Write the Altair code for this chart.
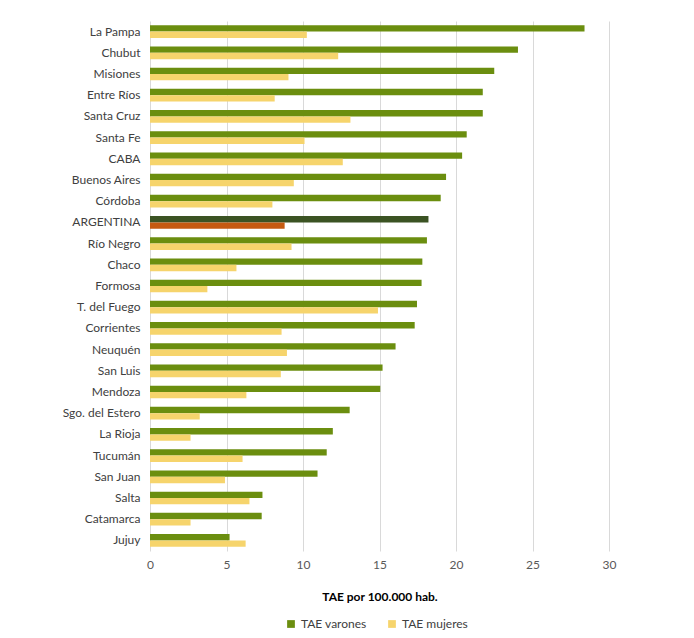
import altair as alt
import pandas as pd

provincias = ["La Pampa", "Chubut", "Misiones", "Entre Ríos", "Santa Cruz", "Santa Fe", "CABA",
              "Buenos Aires", "Córdoba", "ARGENTINA", "Río Negro", "Chaco", "Formosa",
              "T. del Fuego", "Corrientes", "Neuquén", "San Luis", "Mendoza", "Sgo. del Estero",
              "La Rioja", "Tucumán", "San Juan", "Salta", "Catamarca", "Jujuy"]
varones = [28.4, 24.05, 22.5, 21.75, 21.75, 20.7, 20.4, 19.35, 19.0, 18.2, 18.1, 17.8, 17.75,
           17.45, 17.3, 16.05, 15.2, 15.05, 13.05, 11.95, 11.55, 10.95, 7.35, 7.3, 5.2]
mujeres = [10.25, 12.3, 9.05, 8.15, 13.1, 10.1, 12.6, 9.4, 8.0, 8.8, 9.25, 5.65, 3.75,
           14.9, 8.6, 8.95, 8.55, 6.3, 3.25, 2.65, 6.05, 4.9, 6.5, 2.65, 6.25]
series = ["TAE varones", "TAE mujeres"]
colores = ["#6B8E0F", "#F6D46C", "#3B5323", "#C55A11"]
ticks_x = [0, 5, 10, 15, 20, 25, 30]

rows = []
for p, v, m in zip(provincias, varones, mujeres):
    arg = p == "ARGENTINA"
    rows.append({"Provincia": p, "Serie": series[0], "Valor": v,
                 "Clave": "ARG varones" if arg else series[0]})
    rows.append({"Provincia": p, "Serie": series[1], "Valor": m,
                 "Clave": "ARG mujeres" if arg else series[1]})
df = pd.DataFrame(rows)

FONT = "Lato"

chart = alt.Chart(df).mark_bar().encode(
    x=alt.X("Valor:Q", scale=alt.Scale(domain=[0, 30], nice=False),
            axis=alt.Axis(values=ticks_x, title="TAE por 100.000 hab.", grid=True,
                          gridColor="#D9D9D9", domain=False, ticks=False, labelPadding=8,
                          labelFlush=False, titlePadding=21, titleFontWeight="bold",
                          titleFontSize=12, titleColor="#000000", labelColor="#595959",
                          labelFontSize=12, labelFont=FONT, titleFont=FONT)),
    y=alt.Y("Provincia:N", sort=provincias,
            scale=alt.Scale(paddingInner=0.4, paddingOuter=0.2),
            axis=alt.Axis(title=None, domain=False, ticks=False, labelPadding=10,
                          labelColor="#404040", labelFontSize=12, labelFont=FONT)),
    yOffset=alt.YOffset("Serie:N", sort=series),
    color=alt.Color("Clave:N",
                    scale=alt.Scale(domain=series + ["ARG varones", "ARG mujeres"], range=colores),
                    legend=alt.Legend(values=series, orient="none", legendX=135, legendY=597,
                                      title=None, symbolType="square", symbolSize=60,
                                      symbolStrokeWidth=0, labelFontSize=12,
                                      labelColor="#404040", labelFont=FONT,
                                      columnPadding=19, direction="horizontal")),
).properties(
    width=459, height=530,
    padding={"left": 142, "top": 13, "right": 20, "bottom": 80},
    autosize=alt.AutoSizeParams(type="none")
).configure_view(stroke=None)

chart.save("out.html", embed_options={"renderer": "svg", "actions": False})
